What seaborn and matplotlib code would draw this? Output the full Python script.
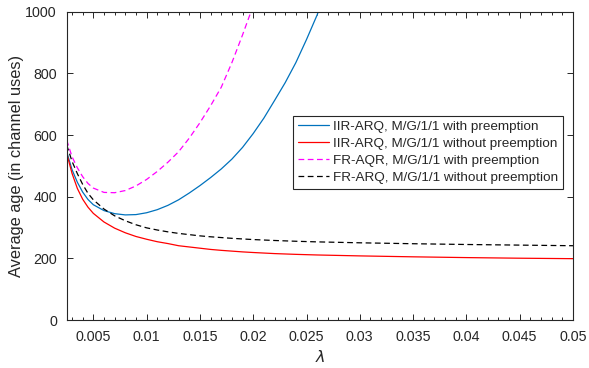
import numpy as np
import pandas as pd
import seaborn as sns
import matplotlib.pyplot as plt
from matplotlib.ticker import MultipleLocator, FormatStrFormatter

# lambda grid
lam = [0.0025, 0.003, 0.0035, 0.004, 0.0045, 0.005, 0.006, 0.007, 0.008, 0.009,
       0.010, 0.011, 0.012, 0.013, 0.014, 0.015, 0.016, 0.017, 0.018, 0.019,
       0.020, 0.022, 0.024, 0.026, 0.028, 0.030, 0.035, 0.040, 0.045, 0.050]

# IIR-ARQ without preemption (red)
iir_nopre = [541, 476, 427, 392, 366, 346, 318, 298, 283, 271,
             262, 254, 248, 241, 237, 233, 229, 226, 223.5, 221,
             219, 215.5, 213, 211, 209.5, 208, 205, 202.5, 200.5, 199]

# FR-ARQ without preemption (black dashed)
fr_nopre = [568, 515, 475, 440, 411, 390, 360, 338, 322, 309,
            299, 292, 286, 281, 277, 273, 270, 267.5, 265, 263,
            261, 258, 255.5, 253.5, 252, 250.5, 247.5, 245, 243, 241]

# IIR-ARQ with preemption (blue)
lam_iir_pre = [0.0025, 0.003, 0.0035, 0.004, 0.0045, 0.005, 0.006, 0.007, 0.008, 0.009,
               0.010, 0.011, 0.012, 0.013, 0.014, 0.015, 0.016, 0.017, 0.018, 0.019,
               0.020, 0.021, 0.022, 0.023, 0.024, 0.025, 0.026, 0.027]
iir_pre = [546, 488, 447, 415, 391, 374, 355, 345, 341, 342,
           348, 358, 372, 390, 412, 436, 462, 490, 522, 560,
           605, 655, 712, 770, 835, 910, 990, 1090]

# FR-ARQ with preemption (magenta dashed)
lam_fr_pre = [0.0025, 0.003, 0.0035, 0.004, 0.0045, 0.005, 0.006, 0.007, 0.008, 0.009,
              0.010, 0.011, 0.012, 0.013, 0.014, 0.015, 0.016, 0.017, 0.018, 0.019,
              0.020, 0.021]
fr_pre = [584, 530, 494, 465, 443, 428, 414, 413, 420, 435,
          456, 482, 512, 546, 590, 640, 695, 755, 835, 925,
          1020, 1110]

sns.set_theme(style="ticks")
plt.rcParams['font.family'] = ['Liberation Sans', 'DejaVu Sans']
plt.rcParams['mathtext.fontset'] = 'dejavusans'

fig = plt.figure(figsize=(5.89, 3.68), dpi=100)
ax = fig.add_axes([0.1132, 0.1304, 0.8596, 0.8376])

dash = (0, (4.6, 2.8))
sns.lineplot(x=lam_iir_pre, y=iir_pre, ax=ax, color='#0072BD', linewidth=0.9,
             label='IIR-ARQ, M/G/1/1 with preemption')
sns.lineplot(x=lam, y=iir_nopre, ax=ax, color='#FF0000', linewidth=0.9,
             label='IIR-ARQ, M/G/1/1 without preemption')
sns.lineplot(x=lam_fr_pre, y=fr_pre, ax=ax, color='#FF00FF', linewidth=0.9,
             linestyle=dash, label='FR-AQR, M/G/1/1 with preemption')
sns.lineplot(x=lam, y=fr_nopre, ax=ax, color='black', linewidth=0.9,
             linestyle=dash, label='FR-ARQ, M/G/1/1 without preemption')

ax.set_xlim(0.0025, 0.05)
ax.set_ylim(0, 1000)
ax.set_xticks(np.arange(0.005, 0.0501, 0.005))
ax.xaxis.set_major_formatter(FormatStrFormatter('%g'))
ax.xaxis.set_minor_locator(MultipleLocator(0.001))
ax.set_yticks(range(0, 1001, 200))

dark = '#262626'
for s in ax.spines.values():
    s.set_color(dark)
    s.set_linewidth(0.8)
ax.tick_params(which='both', direction='in', top=True, right=True, colors=dark,
               labelsize=10.3, width=0.7)
ax.tick_params(which='major', length=4, pad=7)
ax.tick_params(which='minor', length=2)

ax.set_xlabel(r'$\lambda$', fontsize=11.5, color=dark, labelpad=4)
ax.set_ylabel('Average age (in channel uses)', fontsize=11.8, color=dark, labelpad=1)

# legend box spans the measured frame, MATLAB-like padding on the right
leg = ax.legend(loc='upper left', bbox_to_anchor=(0.4476, 0.462, 0.5327, 0.2),
                mode='expand', borderaxespad=0,
                fontsize=9.7, handlelength=2.3, handletextpad=0.3, labelspacing=0.34,
                borderpad=0.35, fancybox=False, framealpha=1)
leg.get_frame().set_edgecolor(dark)
leg.get_frame().set_linewidth(0.8)
for t in leg.get_texts():
    t.set_color(dark)

plt.savefig("out.png", dpi=100)
